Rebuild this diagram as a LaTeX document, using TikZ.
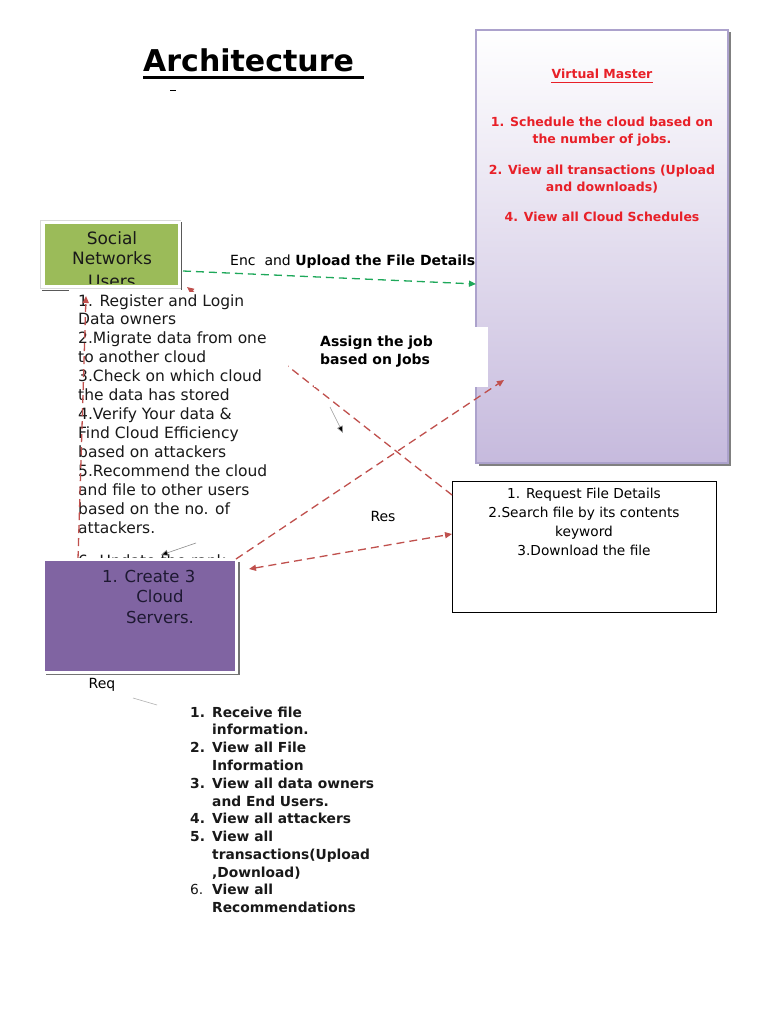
\documentclass[tikz,border=0pt]{standalone}
\usepackage{fontspec}
\setmainfont{DejaVu Sans}
\usetikzlibrary{arrows.meta}
\definecolor{redd}{RGB}{192,80,77}
\definecolor{grn}{RGB}{30,168,90}
\definecolor{vmred}{RGB}{232,32,40}
\definecolor{oliv}{RGB}{155,187,89}
\definecolor{purp}{RGB}{128,100,162}
\definecolor{lav}{RGB}{198,186,221}
\definecolor{lavb}{RGB}{172,162,204}
\definecolor{navy}{RGB}{30,25,50}
\newcommand\myfs[2]{\fontsize{#1}{#2}\selectfont}
\tikzset{
  txt/.style={inner sep=0pt, anchor=base west},
  ctxt/.style={inner sep=0pt, anchor=base},
  reddash/.style={draw=redd, line width=1.3pt, dash pattern=on 8pt off 5pt},
  rtip/.style={-{Triangle[length=7pt,width=6pt]}},
}
\begin{document}
\begin{tikzpicture}[x=1pt,y=-1pt]
\useasboundingbox (0,0) rectangle (768,1024);
\fill[white] (0,0) rectangle (768,1024);

% Virtual master box
\fill[black!50] (478.5,32.5) rectangle (730.5,465.5);
\node[name=vm, draw=lavb, line width=1.2pt, top color=white, bottom color=lav,
      minimum width=252pt, minimum height=433pt, inner sep=0pt] at (602,246.5) {};
\node[ctxt, name=vmt, text=vmred, font=\myfs{12.5}{15}\bfseries] at (602,79) {Virtual Master};
\draw[vmred, line width=1pt] (551,82.5) -- (653,82.5);
\node[ctxt, name=vm1, text=vmred, font=\myfs{12.5}{15}\bfseries] at (602,127) {1. Schedule the cloud based on};
\node[ctxt, name=vm2, text=vmred, font=\myfs{12.5}{15}\bfseries] at (602,144) {the number of jobs.};
\node[ctxt, name=vm3, text=vmred, font=\myfs{12.5}{15}\bfseries] at (602,175) {2. View all transactions (Upload};
\node[ctxt, name=vm4, text=vmred, font=\myfs{12.5}{15}\bfseries] at (602,192) {and downloads)};
\node[ctxt, name=vm5, text=vmred, font=\myfs{12.5}{15}\bfseries] at (602,222) {4. View all Cloud Schedules};

% Request box
\node[name=rq, draw=black, line width=1pt, fill=white, minimum width=264pt, minimum height=131pt, inner sep=0pt] at (584,546.5) {};
\node[ctxt, name=rq1, font=\myfs{13.7}{16}] at (584,498) {1. Request File Details};
\node[ctxt, name=rq2, font=\myfs{13.7}{16}] at (584,517) {2.Search file by its contents};
\node[ctxt, name=rq3, font=\myfs{13.7}{16}] at (584,536) {keyword};
\node[ctxt, name=rq4, font=\myfs{13.7}{16}] at (584,555) {3.Download the file};

% Social networks users box
\draw[black!15, line width=0.6pt] (40.5,220.5) rectangle (180.5,288.5);
\node[name=snu, fill=oliv, draw=white, line width=2.5pt, minimum width=136pt, minimum height=64pt, inner sep=0pt] at (111.5,254.5) {};
\coordinate (snutip) at (187,287);
\coordinate (rqtop) at (452,495);
\draw[reddash, rtip] (rqtop) -- (snutip);

% left white text box
\node[name=lt, fill=white, minimum width=216pt, minimum height=262pt, inner sep=0pt] at (180,423) {};
\foreach \t [count=\i from 0] in {1. Register and Login, Data owners, 2.Migrate data from one, to another cloud, 3.Check on which cloud, the data has stored, 4.Verify Your data \&, Find Cloud Efficiency, based on attackers, 5.Recommend the cloud, and file to other users, based on the no. of, attackers.}
  \node[txt, name=lt\i, font=\myfs{15.5}{19}, text=black!90] at (78,{306+18.95*\i}) {\t};
\node[txt, name=lt13, font=\myfs{15.5}{19}, text=black!90] at (78,566) {6. Update the rank};

% vertical red dashed
\coordinate (vbot) at (78,559);
\coordinate (vtop) at (86,296);
\draw[reddash, rtip] (vbot) -- (vtop);
% thin gray arrow
\coordinate (ga1) at (196,543);
\coordinate (ga2) at (161,555);
\draw[black!45, line width=0.6pt, -{Triangle[length=7pt,width=6pt,fill=black]}] (ga1) -- (ga2);

% social box text
\begin{scope}
\clip (40,220) rectangle (185,283);
\node[ctxt, name=sn1, font=\myfs{17}{20}, text=black!90] at (112,244) {Social};
\node[ctxt, name=sn2, font=\myfs{17}{20}, text=black!90] at (112,264) {Networks};
\node[ctxt, name=sn3, font=\myfs{17}{20}, text=black!90] at (112,287) {Users};
\end{scope}
\draw[black!65, line width=1.6pt] (181.5,222) -- (181.5,290);
\draw[black!65, line width=1.6pt] (42,290.5) -- (69,290.5);

% create box
\fill[black!55] (46,562) rectangle (239.5,675);
\node[name=cs, fill=purp, draw=white, line width=3pt, minimum width=193pt, minimum height=113pt, inner sep=0pt] at (139.5,615.5) {};
\node[txt, name=cs0, font=\myfs{16.5}{20}, text=navy] at (102,582) {1.};
\node[ctxt, name=cs1, font=\myfs{16.5}{20}, text=navy] at (160,582) {Create 3};
\node[ctxt, name=cs2, font=\myfs{16.5}{20}, text=navy] at (160,602.5) {Cloud};
\node[ctxt, name=cs3, font=\myfs{16.5}{20}, text=navy] at (160,623) {Servers.};
\node[ctxt, name=req, font=\myfs{14}{16}] at (102,688) {Req};
\coordinate (rl1) at (133,698);
\coordinate (rl2) at (157,705);
\draw[black!30, line width=0.6pt] (rl1) -- (rl2);

% assign box
\node[name=ab, fill=white, minimum width=174pt, minimum height=60pt, inner sep=0pt] at (401,357) {};
\node[txt, name=ab1, font=\myfs{14}{18}\bfseries] at (320,346) {Assign the job};
\node[txt, name=ab2, font=\myfs{14}{18}\bfseries] at (320,364) {based on Jobs};

% create -> master
\coordinate (csne) at (236,559);
\coordinate (vmin) at (504,380);
\draw[reddash, rtip] (csne) -- (vmin);
% black small arrow
\coordinate (ba1) at (330,407);
\coordinate (ba2) at (343,433);
\draw[black!40, line width=0.6pt, -{Triangle[length=7pt,width=6pt,fill=black]}] (ba1) -- (ba2);

% Res double arrow
\coordinate (res1) at (249,569);
\coordinate (res2) at (452,534);
\draw[reddash, {Triangle[length=7pt,width=6pt]}-{Triangle[length=7pt,width=6pt]}] (res1) -- (res2);
\node[ctxt, name=res, font=\myfs{14}{16}] at (383,521) {Res};

% green upload arrow
\coordinate (g1) at (183,271);
\coordinate (g2) at (476,284);
\draw[draw=grn, line width=1.3pt, dash pattern=on 8pt off 5pt, -{Triangle[length=7pt,width=6pt]}] (g1) -- (g2);
\node[txt, name=enc, font=\myfs{14}{16}] at (230,265) {Enc\ \ and \textbf{Upload the File Details}};

% bottom list
\tikzset{bl/.style={txt, font=\myfs{13.8}{18}\bfseries, text=black!90}}
\node[bl, name=b1n] at (190,717) {1.};
\node[bl, name=b1a] at (212,717) {Receive file};
\node[bl, name=b1b] at (212,734) {information.};
\node[bl, name=b2n] at (190,752) {2.};
\node[bl, name=b2a] at (212,752) {View all File};
\node[bl, name=b2b] at (212,770) {Information};
\node[bl, name=b3n] at (190,788) {3.};
\node[bl, name=b3a] at (212,788) {View all data owners};
\node[bl, name=b3b] at (212,806) {and End Users.};
\node[bl, name=b4n] at (190,823) {4.};
\node[bl, name=b4a] at (212,823) {View all attackers};
\node[bl, name=b5n] at (190,841) {5.};
\node[bl, name=b5a] at (212,841) {View all};
\node[bl, name=b5b] at (212,859) {transactions(Upload};
\node[bl, name=b5c] at (212,877) {,Download)};
\node[txt, name=b6n, font=\myfs{13.8}{18}, text=black!90] at (190,894) {6.};
\node[bl, name=b6a] at (212,894) {View all};
\node[bl, name=b6b] at (212,912) {Recommendations};

% title
\node[txt, name=title, font=\myfs{30}{34}\bfseries] at (143,72) {Architecture};
\draw[black, line width=2.2pt] (143,77.5) -- (364,77.5);
\draw[black, line width=1pt] (170,91) -- (176,91);
\end{tikzpicture}
\end{document}
